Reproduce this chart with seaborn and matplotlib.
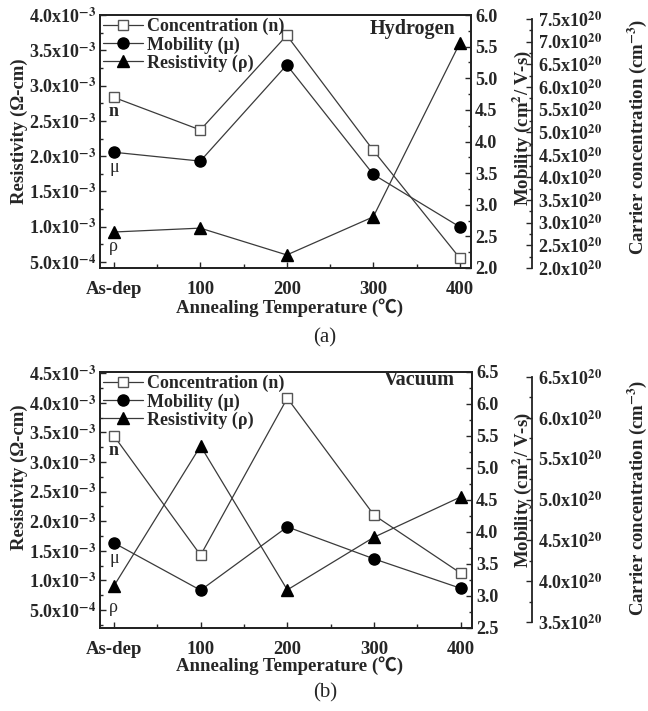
import matplotlib
matplotlib.use('Agg')
import matplotlib.pyplot as plt
import seaborn as sns
import pandas as pd
from matplotlib.ticker import FixedLocator, FixedFormatter, MultipleLocator

# ---------------- data ----------------
categories = ['As-dep', '100', '200', '300', '400']

h_resistivity = [0.925e-3, 0.98e-3, 0.60e-3, 1.14e-3, 3.60e-3]
h_mobility = [3.83, 3.69, 5.21, 3.48, 2.65]
h_concentration = [5.77e20, 5.05e20, 7.14e20, 4.60e20, 2.22e20]

v_resistivity = [0.905e-3, 3.27e-3, 0.84e-3, 1.73e-3, 2.41e-3]
v_mobility = [3.83, 3.09, 4.08, 3.58, 3.12]
v_concentration = [5.78e20, 4.32e20, 6.24e20, 4.81e20, 4.10e20]

res_ticks_a = [0.5e-3, 1.0e-3, 1.5e-3, 2.0e-3, 2.5e-3, 3.0e-3, 3.5e-3, 4.0e-3]
res_labels_a = [r'5.0x10$^{\mathbf{-4}}$', r'1.0x10$^{\mathbf{-3}}$', r'1.5x10$^{\mathbf{-3}}$',
                r'2.0x10$^{\mathbf{-3}}$', r'2.5x10$^{\mathbf{-3}}$', r'3.0x10$^{\mathbf{-3}}$',
                r'3.5x10$^{\mathbf{-3}}$', r'4.0x10$^{\mathbf{-3}}$']
mob_ticks_a = [2.0, 2.5, 3.0, 3.5, 4.0, 4.5, 5.0, 5.5, 6.0]
mob_labels_a = ['2.0', '2.5', '3.0', '3.5', '4.0', '4.5', '5.0', '5.5', '6.0']
conc_ticks_a = [2.0e20, 2.5e20, 3.0e20, 3.5e20, 4.0e20, 4.5e20, 5.0e20, 5.5e20,
                6.0e20, 6.5e20, 7.0e20, 7.5e20]
conc_labels_a = [r'2.0x10$^{\mathbf{20}}$', r'2.5x10$^{\mathbf{20}}$', r'3.0x10$^{\mathbf{20}}$',
                 r'3.5x10$^{\mathbf{20}}$', r'4.0x10$^{\mathbf{20}}$', r'4.5x10$^{\mathbf{20}}$',
                 r'5.0x10$^{\mathbf{20}}$', r'5.5x10$^{\mathbf{20}}$', r'6.0x10$^{\mathbf{20}}$',
                 r'6.5x10$^{\mathbf{20}}$', r'7.0x10$^{\mathbf{20}}$', r'7.5x10$^{\mathbf{20}}$']

res_ticks_b = [0.5e-3, 1.0e-3, 1.5e-3, 2.0e-3, 2.5e-3, 3.0e-3, 3.5e-3, 4.0e-3, 4.5e-3]
res_labels_b = [r'5.0x10$^{\mathbf{-4}}$', r'1.0x10$^{\mathbf{-3}}$', r'1.5x10$^{\mathbf{-3}}$',
                r'2.0x10$^{\mathbf{-3}}$', r'2.5x10$^{\mathbf{-3}}$', r'3.0x10$^{\mathbf{-3}}$',
                r'3.5x10$^{\mathbf{-3}}$', r'4.0x10$^{\mathbf{-3}}$', r'4.5x10$^{\mathbf{-3}}$']
mob_ticks_b = [2.5, 3.0, 3.5, 4.0, 4.5, 5.0, 5.5, 6.0, 6.5]
mob_labels_b = ['2.5', '3.0', '3.5', '4.0', '4.5', '5.0', '5.5', '6.0', '6.5']
conc_ticks_b = [3.5e20, 4.0e20, 4.5e20, 5.0e20, 5.5e20, 6.0e20, 6.5e20]
conc_labels_b = [r'3.5x10$^{\mathbf{20}}$', r'4.0x10$^{\mathbf{20}}$', r'4.5x10$^{\mathbf{20}}$',
                 r'5.0x10$^{\mathbf{20}}$', r'5.5x10$^{\mathbf{20}}$', r'6.0x10$^{\mathbf{20}}$',
                 r'6.5x10$^{\mathbf{20}}$']

series_labels = ['Concentration (n)', 'Mobility (\u03bc)', 'Resistivity (\u03c1)']
point_tags = ['n', '\u03bc', '\u03c1']
panel_titles = ['Hydrogen', 'Vacuum']
captions = ['(a)', '(b)']
xlabel_text = 'Annealing Temperature (\u2103)'
res_label = 'Resistivity (\u03a9-cm)'
mob_label = r'Mobility (cm$^{\mathbf{2}}$/ V-s)'
conc_label = r'Carrier concentration (cm$^{\mathbf{-3}}$)'

# ---------------- style ----------------
sns.set_style('ticks')
plt.rcParams['font.family'] = ['Liberation Serif', 'Noto Sans CJK SC', 'DejaVu Sans']
plt.rcParams['mathtext.fontset'] = 'stix'
plt.rcParams['font.weight'] = 'bold'
plt.rcParams['axes.linewidth'] = 1.3
plt.rcParams['axes.edgecolor'] = '#222222'

TICK_FS = 13
XTICK_FS = 13.5
LAB_FS = 13.5
LEG_FS = 13
TITLE_FS = 14.5
LINE_C = '#3a3a3a'

fig = plt.figure(figsize=(6.48, 7.11), dpi=100)
W, H = 648, 711


def build_panel(px, res, mob, conc, res_lim, res_ticks, res_labels,
                mob_lim, mob_ticks, mob_labels, conc_lim, conc_ticks, conc_labels,
                title, title_pos, lab_y, xlab_y, xpad, tag_off, caption, cap_y):
    x0, y0, x1, y1 = px
    wpx = x1 - x0
    ax = fig.add_axes([x0 / W, 1 - y1 / H, wpx / W, (y1 - y0) / H])
    axm = ax.twinx()
    axc = ax.twinx()

    df = pd.DataFrame({'pos': list(range(len(categories))),
                       'res': res, 'mob': mob, 'conc': conc})

    sns.lineplot(data=df, x='pos', y='res', ax=ax, color=LINE_C, lw=0.9,
                 marker='^', markersize=8.5, markerfacecolor='black',
                 markeredgecolor='black', markeredgewidth=1, label=series_labels[2])
    sns.lineplot(data=df, x='pos', y='mob', ax=axm, color=LINE_C, lw=0.9,
                 marker='o', markersize=8, markerfacecolor='black',
                 markeredgecolor='black', markeredgewidth=1, label=series_labels[1])
    sns.lineplot(data=df, x='pos', y='conc', ax=axc, color=LINE_C, lw=0.9,
                 marker='s', markersize=7.5, markerfacecolor='white',
                 markeredgecolor='#555555', markeredgewidth=1, label=series_labels[0])

    handles = []
    for a in (axc, axm, ax):
        h, l = a.get_legend_handles_labels()
        handles += h
        if a.get_legend() is not None:
            a.get_legend().remove()

    # x axis
    ax.set_xlim(-0.16, 4.13)
    ax.xaxis.set_major_locator(FixedLocator(list(range(len(categories)))))
    ax.xaxis.set_major_formatter(FixedFormatter(categories))
    ax.xaxis.set_minor_locator(MultipleLocator(0.5))
    ax.tick_params(axis='x', which='both', direction='in', top=False,
                   labelsize=XTICK_FS, pad=xpad, length=4, width=1)
    ax.tick_params(axis='x', which='minor', length=3)
    ax.set_xlabel(xlabel_text, fontsize=LAB_FS, fontweight='bold')
    ax.xaxis.set_label_coords(0.51, xlab_y)

    # left axis
    ax.set_ylim(*res_lim)
    ax.yaxis.set_major_locator(FixedLocator(res_ticks))
    ax.yaxis.set_major_formatter(FixedFormatter(res_labels))
    ax.yaxis.set_minor_locator(MultipleLocator(0.25e-3))
    ax.tick_params(axis='y', which='both', direction='in', labelsize=TICK_FS,
                   pad=3, length=4, width=1)
    ax.tick_params(axis='y', which='minor', length=2.5)
    ax.set_ylabel(res_label, fontsize=LAB_FS, fontweight='bold')
    ax.yaxis.set_label_coords((28 - x0) / wpx, lab_y[0])

    # mobility axis
    axm.set_ylim(*mob_lim)
    axm.yaxis.set_major_locator(FixedLocator(mob_ticks))
    axm.yaxis.set_major_formatter(FixedFormatter(mob_labels))
    axm.yaxis.set_minor_locator(MultipleLocator(0.25))
    axm.tick_params(axis='y', which='both', direction='in', labelsize=TICK_FS,
                    pad=3, length=4, width=1)
    axm.tick_params(axis='y', which='minor', length=2.5)
    axm.set_ylabel(mob_label, fontsize=LAB_FS, fontweight='bold')
    axm.yaxis.set_label_coords((511 - x0) / wpx, lab_y[1])

    # concentration axis
    axc.set_ylim(*conc_lim)
    axc.spines['right'].set_position(('axes', (532 - x0) / wpx))
    axc.spines['right'].set_bounds(conc_ticks[0], conc_ticks[-1])
    for s in ('left', 'top', 'bottom'):
        axc.spines[s].set_visible(False)
    axc.yaxis.set_major_locator(FixedLocator(conc_ticks))
    axc.yaxis.set_major_formatter(FixedFormatter(conc_labels))
    axc.yaxis.set_minor_locator(MultipleLocator(0.25e20))
    axc.tick_params(axis='y', which='both', direction='in', labelsize=TICK_FS,
                    pad=4, length=4, width=1)
    axc.tick_params(axis='y', which='minor', length=2.5)
    axc.set_ylabel(conc_label, fontsize=LAB_FS, fontweight='bold')
    axc.yaxis.set_label_coords((626 - x0) / wpx, lab_y[2])

    # point tags n, mu, rho
    axc.annotate(point_tags[0], xy=(0, conc[0]), xytext=(0, -tag_off[0]),
                 textcoords='offset pixels', ha='center', va='center',
                 fontsize=TICK_FS, fontweight='bold')
    axm.annotate(point_tags[1], xy=(0, mob[0]), xytext=(0, -tag_off[1]),
                 textcoords='offset pixels', ha='center', va='center',
                 fontsize=TICK_FS, fontweight='normal')
    ax.annotate(point_tags[2], xy=(0, res[0]), xytext=(0, -tag_off[2]),
                textcoords='offset pixels', ha='center', va='center',
                fontsize=TICK_FS, fontweight='normal')

    # legend + title
    axc.legend(handles=handles, labels=series_labels, loc='upper left',
               bbox_to_anchor=(0.0, 1.0), frameon=False, fontsize=LEG_FS,
               handlelength=2.2, handletextpad=0.25, labelspacing=0.05,
               borderaxespad=0.05, borderpad=0.12)
    axc.text(title_pos[0], title_pos[1], title, transform=ax.transAxes,
             ha='right', va='center', fontsize=TITLE_FS, fontweight='bold')

    fig.text(0.5015, 1 - cap_y / H, caption, ha='center', va='center',
             fontsize=15, fontweight='normal')


build_panel((100, 15, 471, 268), h_resistivity, h_mobility, h_concentration,
            (0.415e-3, 4.0e-3), res_ticks_a, res_labels_a,
            (2.0, 6.0), mob_ticks_a, mob_labels_a,
            (2.0e20, 7.59e20), conc_ticks_a, conc_labels_a,
            panel_titles[0], (0.957, 0.945), (0.54, 0.553, 0.52), -0.118, 9.5,
            (14, 15, 14), captions[0], 338)

build_panel((100, 372, 472, 628), v_resistivity, v_mobility, v_concentration,
            (0.196e-3, 4.52e-3), res_ticks_b, res_labels_b,
            (2.5, 6.5), mob_ticks_b, mob_labels_b,
            (3.43e20, 6.56e20), conc_ticks_b, conc_labels_b,
            panel_titles[1], (0.955, 0.97), (0.59, 0.54, 0.51), -0.112, 9,
            (15, 16, 21), captions[1], 693)

fig.savefig('out.png', dpi=100)
